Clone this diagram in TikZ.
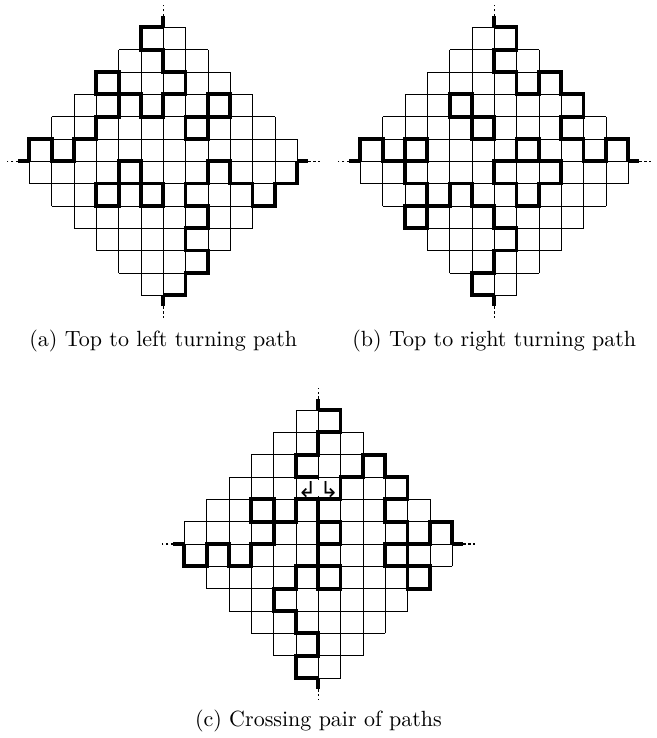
\documentclass[tikz,border=0pt]{standalone}
\usepackage{fontspec}
\newfontfamily\arrowfont{DejaVu Sans}

\tikzset{
  cell/.style={line width=0.4pt},
  route/.style={line width=1.7pt,line join=miter},
  lead/.style={line width=0.5pt,dash pattern=on 1.1pt off 1.1pt},
  turn/.style={font=\arrowfont\normalsize,inner sep=0pt,fill=white},
}

% Aztec diamond of order 6, centred on the origin
\newcommand{\aztecgrid}{%
  \draw[cell] (-6,0) -- (6,0) (0,-6) -- (0,6);
  \foreach \k in {1,...,6} {
    \pgfmathtruncatemacro{\w}{min(6,7-\k)}
    \draw[cell] (-7+\k,\k) -- (7-\k,\k) (-7+\k,-\k) -- (7-\k,-\k)
                (\k,-\w) -- (\k,\w) (-\k,-\w) -- (-\k,\w);
  }
}
% the four boundary stubs
\newcommand{\aztecstubs}{%
  \draw[route] (0,6) -- (0,6.5) (0,-6) -- (0,-6.5) (-6,0) -- (-6.5,0) (6,0) -- (6.5,0);
  \draw[lead] (0,6.5) -- (0,7) (0,-6.5) -- (0,-7) (-6.5,0) -- (-7,0) (6.5,0) -- (7,0);
}

\begin{document}
\begin{tikzpicture}[x=0.3567cm,y=0.3567cm]
\useasboundingbox (0,0) rectangle (29.38,-33.05);

% (a)
\begin{scope}[shift={(7.313,-7.223)}]
\aztecgrid
\draw[route] (0,6) -- (-1,6) -- (-1,5) -- (0,5) -- (0,4) -- (1,4) -- (1,3) -- (0,3) -- (0,2) -- (-1,2) -- (-1,3) -- (-2,3) -- (-2,2) -- (-3,2) -- (-3,1) -- (-4,1) -- (-4,0) -- (-5,0) -- (-5,1) -- (-6,1) -- (-6,0);
\draw[route] (-2,3) -- (-3,3) -- (-3,4) -- (-2,4) -- cycle;
\draw[route] (2,3) -- (3,3) -- (3,2) -- (1,2) -- (1,1) -- (2,1) -- cycle;
\draw[route] (-2,0) -- (-1,0) -- (-1,-2) -- (0,-2) -- (0,-1) -- (-3,-1) -- (-3,-2) -- (-2,-2) -- cycle;
\draw[route] (6,0) -- (6,-1) -- (5,-1) -- (5,-2) -- (4,-2) -- (4,-1) -- (3,-1) -- (3,0) -- (2,0) -- (2,-1) -- (1,-1) -- (1,-2) -- (2,-2) -- (2,-3) -- (1,-3) -- (1,-4) -- (2,-4) -- (2,-5) -- (1,-5) -- (1,-6) -- (0,-6);
\aztecstubs
\end{scope}
\node (capa) at (7.313,-15.25) {(a) Top to left turning path};

% (b)
\begin{scope}[shift={(22.136,-7.223)}]
\aztecgrid
\draw[route] (0,6) -- (1,6) -- (1,5) -- (0,5) -- (0,4) -- (1,4) -- (1,3) -- (2,3) -- (2,4) -- (3,4) -- (3,3) -- (4,3) -- (4,2) -- (3,2) -- (3,1) -- (4,1) -- (4,0) -- (5,0) -- (5,1) -- (6,1) -- (6,0);
\draw[route] (-2,3) -- (-1,3) -- (-1,1) -- (0,1) -- (0,2) -- (-2,2) -- cycle;
\draw[route] (0,0) -- (3,0) -- (3,-1) -- (2,-1) -- (2,-2) -- (1,-2) -- (1,-1) -- (0,-1) -- cycle;
\draw[route] (1,0) -- (1,1) -- (2,1) -- (2,0);
\draw[route] (-6,0) -- (-6,1) -- (-5,1) -- (-5,0) -- (-3,0) -- (-3,1) -- (-4,1) -- (-4,-1) -- (-3,-1) -- (-3,-3) -- (-4,-3) -- (-4,-2) -- (-2,-2) -- (-2,-1) -- (-1,-1) -- (-1,-2) -- (0,-2) -- (0,-3) -- (1,-3) -- (1,-4) -- (0,-4) -- (0,-5) -- (-1,-5) -- (-1,-6) -- (0,-6);
\aztecstubs
\end{scope}
\node (capb) at (22.136,-15.25) {(b) Top to right turning path};

% (c)
\begin{scope}[shift={(14.254,-24.362)}]
\aztecgrid
\fill[white] (-0.85,2.15) rectangle (0.85,2.85);
\node[turn] (turnleft) at (-0.5,2.45) {↲};
\node[turn] (turnright) at (0.5,2.45) {↳};
\draw[route] (0,6) -- (1,6) -- (1,5) -- (0,5) -- (0,4) -- (-1,4) -- (-1,3) -- (0,3);
\draw[route] (-6,0) -- (-6,-1) -- (-5,-1) -- (-5,0) -- (-4,0) -- (-4,-1) -- (-3,-1) -- (-3,0) -- (-2,0) -- (-2,2) -- (-3,2) -- (-3,1) -- (-1,1) -- (-1,2) -- (1,2) -- (1,3) -- (2,3) -- (2,4) -- (3,4) -- (3,3) -- (4,3) -- (4,2) -- (3,2) -- (3,1) -- (4,1) -- (4,-2) -- (5,-2) -- (5,-1) -- (3,-1) -- (3,0) -- (5,0) -- (5,1) -- (6,1) -- (6,0);
\draw[route] (0,-6) -- (-1,-6) -- (-1,-5) -- (0,-5) -- (0,-4) -- (-1,-4) -- (-1,-3) -- (-2,-3) -- (-2,-2) -- (-1,-2) -- (-1,-1) -- (1,-1) -- (1,-2) -- (0,-2) -- (0,2);
\draw[route] (0,1) -- (1,1) -- (1,0) -- (0,0);
\aztecstubs
\end{scope}
\node (capc) at (14.26,-32.31) {(c) Crossing pair of paths};
\end{tikzpicture}
\end{document}
